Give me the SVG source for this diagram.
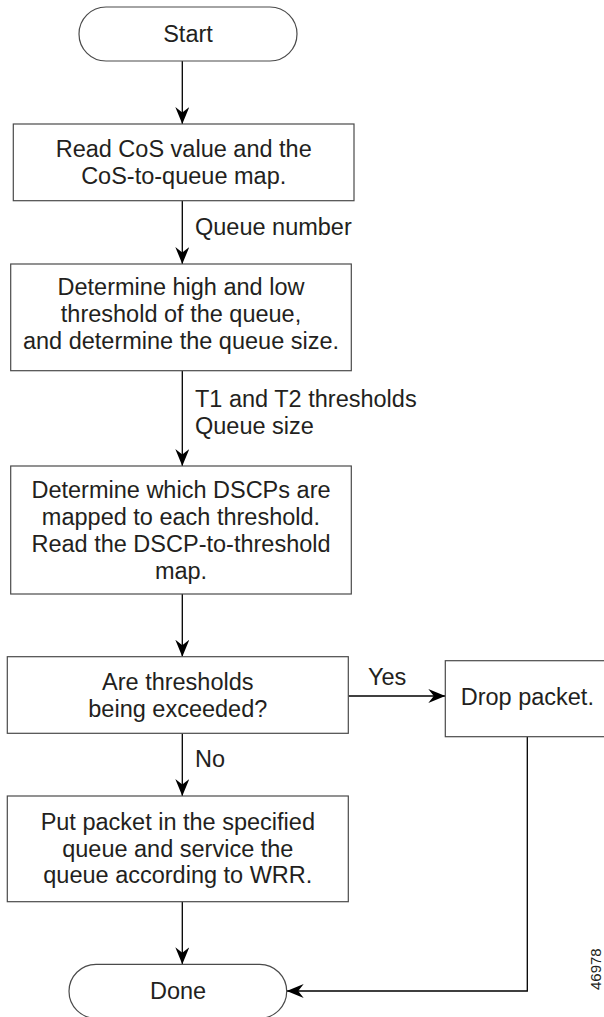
<svg xmlns="http://www.w3.org/2000/svg" width="604" height="1017" viewBox="0 0 604 1017">
<style>
  .box { fill: #ffffff; stroke: #4a4a4a; stroke-width: 1.2; }
  .t { font-family: "Liberation Sans", Arial, sans-serif; font-size: 23.5px; fill: #231f20; }
  .c { text-anchor: middle; }
  .conn { fill: none; stroke: #000000; stroke-width: 1.3; }
  .id { font-family: "Liberation Sans", Arial, sans-serif; font-size: 15px; fill: #231f20; }
</style>
<defs>
  <marker id="arr" markerUnits="userSpaceOnUse" markerWidth="18" markerHeight="14" refX="17" refY="7" orient="auto">
    <path d="M0,0 L17,7 L0,14 L5.5,7 Z" fill="#000000"/>
  </marker>
</defs>
<rect width="604" height="1017" fill="#ffffff"/>

<g id="connectors">
  <line class="conn" x1="182.3" y1="61" x2="182.3" y2="124" marker-end="url(#arr)"/>
  <line class="conn" x1="182.3" y1="200.7" x2="182.3" y2="264" marker-end="url(#arr)"/>
  <line class="conn" x1="182.3" y1="370.7" x2="182.3" y2="466" marker-end="url(#arr)"/>
  <line class="conn" x1="182.3" y1="594" x2="182.3" y2="656.7" marker-end="url(#arr)"/>
  <line class="conn" x1="182.3" y1="733.3" x2="182.3" y2="796" marker-end="url(#arr)"/>
  <line class="conn" x1="182.3" y1="901.7" x2="182.3" y2="964.3" marker-end="url(#arr)"/>
  <line class="conn" x1="348.3" y1="696" x2="445.3" y2="696" marker-end="url(#arr)"/>
  <polyline class="conn" points="527.3,736.7 527.3,991 286.7,991" marker-end="url(#arr)"/>
  <text class="t" x="195" y="235">Queue number</text>
  <text class="t" x="195" y="406.7">T1 and T2 thresholds</text>
  <text class="t" x="195" y="434">Queue size</text>
  <text class="t" x="368" y="685">Yes</text>
  <text class="t" x="195" y="766.7">No</text>
</g>

<g id="start">
  <rect class="box" x="79" y="7" width="218" height="54" rx="27" ry="27"/>
  <text class="t c" x="188" y="42.3">Start</text>
</g>

<g id="read-cos">
  <rect class="box" x="13.3" y="124" width="340.7" height="76.7"/>
  <text class="t c" x="183.7" y="157">Read CoS value and the</text>
  <text class="t c" x="183.7" y="183.5">CoS-to-queue map.</text>
</g>

<g id="determine-thresholds">
  <rect class="box" x="10.7" y="264" width="340.6" height="106.7"/>
  <text class="t c" x="181" y="295">Determine high and low</text>
  <text class="t c" x="181" y="321.7">threshold of the queue,</text>
  <text class="t c" x="181" y="349">and determine the queue size.</text>
</g>

<g id="determine-dscp">
  <rect class="box" x="10.7" y="466" width="340.6" height="128"/>
  <text class="t c" x="181" y="498.3">Determine which DSCPs are</text>
  <text class="t c" x="181" y="525.3">mapped to each threshold.</text>
  <text class="t c" x="181" y="552">Read the DSCP-to-threshold</text>
  <text class="t c" x="181" y="578.7">map.</text>
</g>

<g id="exceeded">
  <rect class="box" x="7.3" y="656.7" width="341" height="76.6"/>
  <text class="t c" x="177.8" y="690">Are thresholds</text>
  <text class="t c" x="177.8" y="716.7">being exceeded?</text>
</g>

<g id="drop">
  <rect class="box" x="445.3" y="660.7" width="170" height="76"/>
  <text class="t" x="460.7" y="705">Drop packet.</text>
</g>

<g id="put-packet">
  <rect class="box" x="7.3" y="796" width="341" height="105.7"/>
  <text class="t c" x="177.8" y="830">Put packet in the specified</text>
  <text class="t c" x="177.8" y="856.7">queue and service the</text>
  <text class="t c" x="177.8" y="883">queue according to WRR.</text>
</g>

<g id="done">
  <rect class="box" x="69" y="964.3" width="217.7" height="54" rx="27" ry="27"/>
  <text class="t c" x="178" y="999.3">Done</text>
</g>

<text class="id" transform="translate(600.5,990) rotate(-90)" x="0" y="0">46978</text>
</svg>
